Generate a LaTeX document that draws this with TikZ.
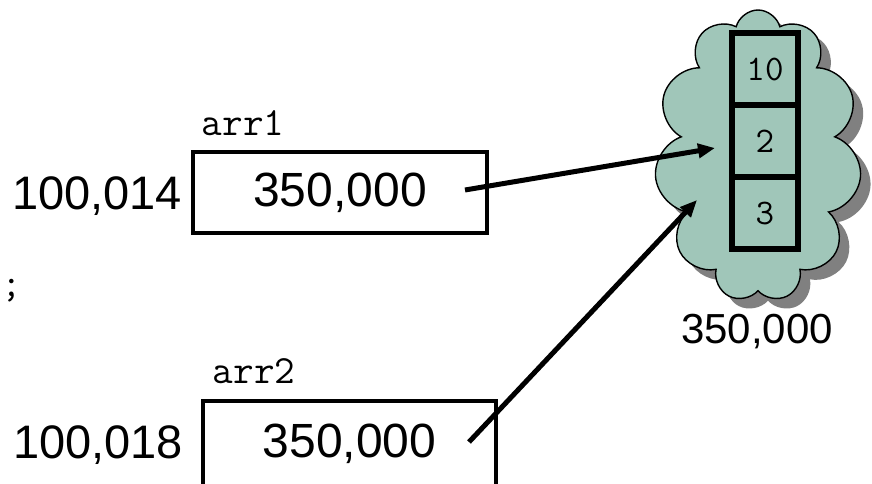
\documentclass[tikz,border=0pt]{standalone}
\usepackage{fontspec}
\newfontfamily\numfont{Liberation Sans}
\usetikzlibrary{shapes.symbols,shadows,arrows.meta}
\definecolor{cloudgreen}{RGB}{160,198,185}
\definecolor{shadowgray}{RGB}{128,128,128}

\begin{document}
\begin{tikzpicture}[x=1pt, y=-1pt,
    num/.style={font=\numfont\fontsize{47}{50}\selectfont, inner sep=0pt, anchor=base},
    code/.style={font=\ttfamily\fontsize{40}{44}\selectfont, inner sep=0pt, anchor=base},
    valbox/.style={draw, line width=4.5pt, minimum width=294pt, minimum height=81pt,
        inner sep=0pt, font=\numfont\fontsize{48}{52}\selectfont},
    cell/.style={draw, line width=5.5pt, minimum width=66pt, minimum height=72pt,
        inner sep=0pt, font=\ttfamily\fontsize{36}{40}\selectfont},
    ptr/.style={line width=5pt, -{Triangle[length=17pt, width=14pt]}}]
    \useasboundingbox (0,0) rectangle (872,483);
    \clip (0,0) rectangle (872,483);

    \coordinate (s1) at (465, 190);
    \coordinate (t1) at (715, 148);
    \coordinate (s2) at (469, 442);
    \coordinate (t2) at (697, 200);

    \node (semi) [code] at (12, 296) {;};

    \node (box1) [valbox] at (340, 192.5) {350,000};
    \node (addr1) [num] at (97, 209) {100,014};
    \node (name1) [code] at (243, 135) {arr1};

    \node (box2) [valbox, minimum width=293pt, minimum height=86pt] at (349.5, 444) {350,000};
    \node (addr2) [num] at (98, 458) {100,018};
    \node (name2) [code] at (254, 383) {arr2};

    \node (heap) [cloud, cloud puffs=11, cloud puff arc=150, cloud ignores aspect, draw,
        line width=1.4pt, fill=cloudgreen, minimum width=207pt, minimum height=292pt,
        drop shadow={shadow xshift=10pt, shadow yshift=-10pt, fill=shadowgray, opacity=1}]
        at (758, 156) {};
    \node (heapaddr) [num, font=\numfont\fontsize{42}{46}\selectfont] at (757, 343) {350,000};

    \node (c1) [cell] at (765, 69) {10};
    \node (c2) [cell] at (765, 141) {2};
    \node (c3) [cell] at (765, 213) {3};

    \draw[ptr] (s1) -- (t1);
    \draw[ptr] (s2) -- (t2);
\end{tikzpicture}
\end{document}
